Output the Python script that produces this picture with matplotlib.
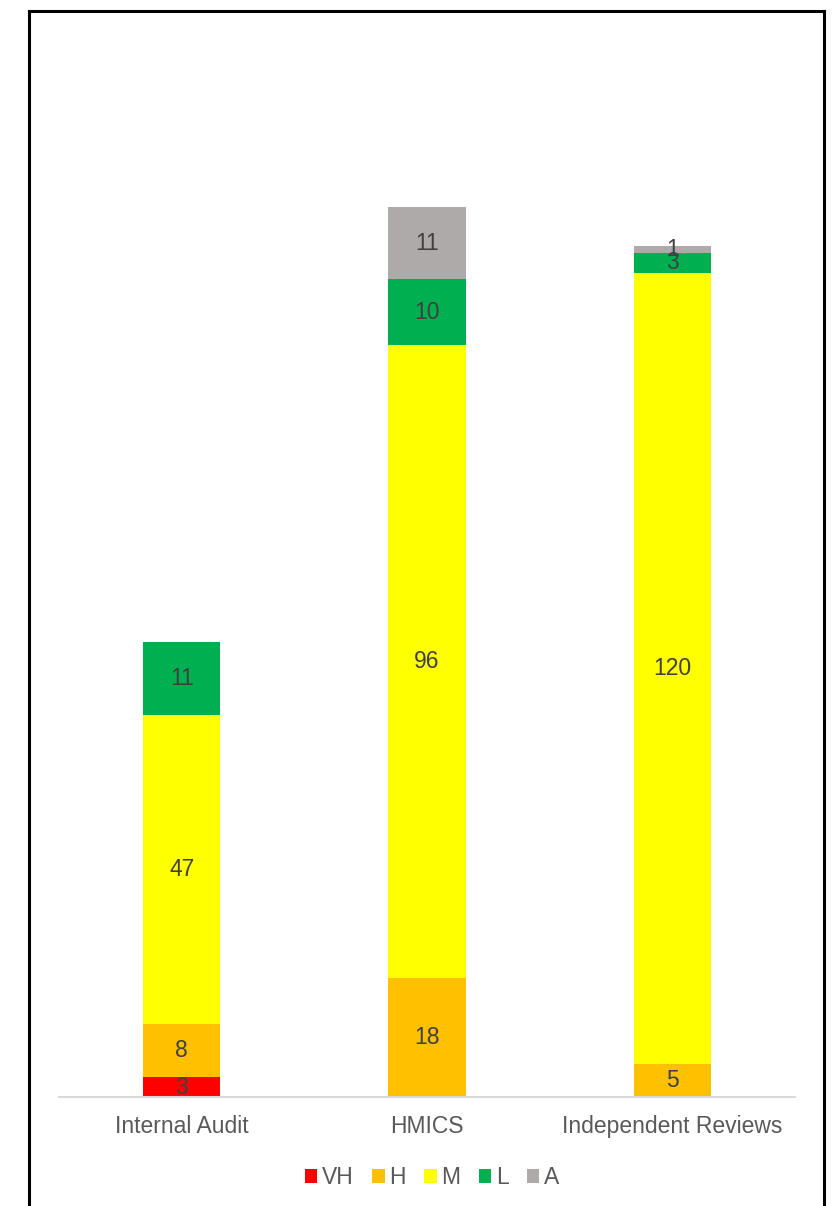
import numpy as np
import matplotlib.pyplot as plt
from matplotlib.lines import Line2D
from matplotlib.patches import Patch

plt.rcParams['font.family'] = ['Liberation Sans', 'DejaVu Sans']

# Sources of recommendations and their priority counts
categories = ["Internal Audit", "HMICS", "Independent Reviews"]
priorities = ["VH", "H", "M", "L", "A"]
vh = [3, 0, 0]
h = [8, 18, 5]
m = [47, 96, 120]
low = [11, 10, 3]
a = [0, 11, 1]
colors = ["#FF0000", "#FFC000", "#FFFF00", "#00B050", "#AEAAAA"]

series = [vh, h, m, low, a]
FS = 16.5

W, H = 833, 1206
fig = plt.figure(figsize=(W / 100, H / 100), dpi=100)
ax = fig.add_axes([59 / W, 109 / H, (795 - 59) / W, (1097 - 42) / H])

x = np.arange(len(categories))
bottom = np.zeros(len(categories))
for vals, col in zip(series, colors):
    vals = np.array(vals, dtype=float)
    bars = ax.bar(x, vals, width=0.314, bottom=bottom, color=col, linewidth=0)
    for rect, v, b in zip(bars, vals, bottom):
        if v > 0:
            ax.text(rect.get_x() + rect.get_width() / 2, b + v / 2, f"{int(v)}",
                    ha='center', va='center', fontsize=FS, color='#404040')
    bottom += vals

ax.set_xlim(-0.5, len(categories) - 0.5)
ax.set_ylim(0, 160)
ax.set_yticks([])
ax.set_xticks(x)
ax.set_xticklabels(categories, fontsize=FS, color='#595959')
ax.tick_params(axis='x', length=0, pad=13)
for side in ['top', 'right', 'left']:
    ax.spines[side].set_visible(False)
ax.spines['bottom'].set_color('#D9D9D9')
ax.spines['bottom'].set_linewidth(1.5)

handles = [Patch(facecolor=c, edgecolor='none') for c in colors]
leg = fig.legend(handles, priorities, loc='center', bbox_to_anchor=(432 / W, 1 - 1178 / H),
                 ncol=5, frameon=False, fontsize=FS, handlelength=0.55, handleheight=0.55,
                 handletextpad=0.2, columnspacing=0.8)
for t in leg.get_texts():
    t.set_color('#595959')

# outer chart border
for xs, ys in [([29, 29], [H, 11]), ([29, 824], [11, 11]), ([824, 824], [11, H])]:
    fig.add_artist(Line2D([v / W for v in xs], [1 - v / H for v in ys], color='black', linewidth=2.2))

fig.savefig("out.png", dpi=100)
